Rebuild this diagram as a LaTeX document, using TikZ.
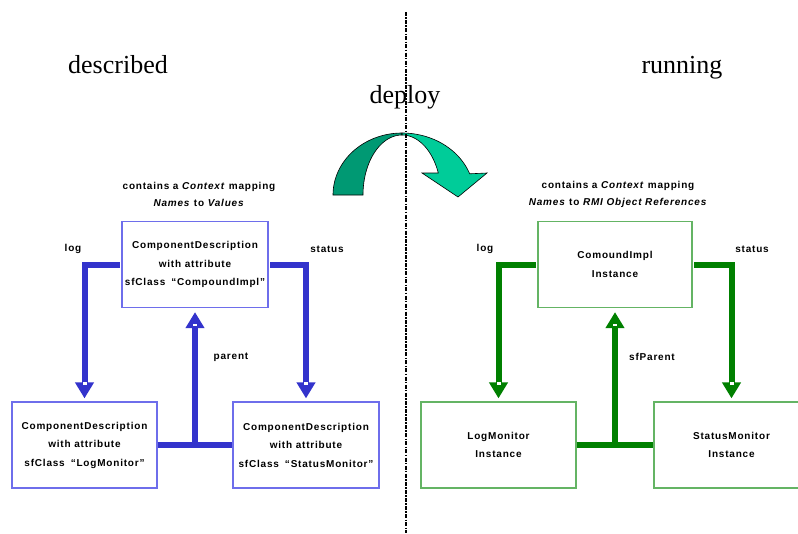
\documentclass[tikz,border=0pt]{standalone}
\usepackage{fontspec}
\setmainfont{Liberation Serif}
\newfontfamily\labfont[LetterSpace=8]{Liberation Sans}
\usetikzlibrary{arrows.meta}
\definecolor{barblue}{RGB}{51,51,204}
\definecolor{boxblue}{RGB}{110,110,235}
\definecolor{bargreen}{RGB}{0,128,0}
\definecolor{boxgreen}{RGB}{100,180,100}
\definecolor{arrdark}{RGB}{0,153,115}
\definecolor{arrlight}{RGB}{0,204,153}
\begin{document}
\begin{tikzpicture}[x=1pt,y=-1pt,
  lab/.style={font=\labfont\bfseries\fontsize{10}{18.5}\selectfont, align=center, inner sep=0pt},
  bluebox/.style={lab, draw=boxblue, line width=1.2pt, minimum height=86pt},
  greenbox/.style={lab, draw=boxgreen, line width=1.2pt, minimum height=86pt},
  big/.style={font=\fontsize{26}{30}\selectfont, anchor=base, inner sep=0pt},
  conn/.style={line width=6pt, -{Triangle[width=18pt,length=16pt]}, shorten >=3pt, shorten <=1.5pt},
  bar/.style={line width=6pt},
  notch/.style={fill=white},
  sepline/.style={line width=2.4pt, dash pattern=on 4pt off 1.3pt on 1.5pt off 1.3pt},
  curvedark/.style={fill=arrdark, draw=black, line width=0.6pt},
  curvelight/.style={fill=arrlight, draw=black, line width=0.6pt},
]
\useasboundingbox (0,0) rectangle (798,533);

% headings
\node[big] (described) at (118,73) {described};
\node[big] (running) at (682,73) {running};
\node[big] (deploy) at (405,103) {deploy};

% curved deploy arrow
\path[curvedark] plot[domain=180:270,samples=40] ({402+69*cos(\x)},{195+62*sin(\x)})
  -- plot[domain=270:180,samples=40] ({402+39*cos(\x)},{195+60*sin(\x)}) -- cycle;
\path[curvelight] plot[domain=270:340,samples=40] ({402+72*cos(\x)},{195+62*sin(\x)})
  -- (487,173) -- (458,197) -- (422,173)
  -- plot[domain=338.5:270,samples=40] ({402+39*cos(\x)},{195+60*sin(\x)}) -- cycle;

% ---------- described side ----------
\node[lab] (ctxL) at (199,194.5) {contains a \textit{Context} mapping\\[-1.5pt]\textit{Names} to \textit{Values}};
\node[bluebox, minimum width=146pt] (t1) at (195,264.5)
  {ComponentDescription\\with attribute\\sfClass\hspace{6pt}“CompoundImpl”};
\node[bluebox, minimum width=145pt] (b1) at (84.5,445)
  {ComponentDescription\\with attribute\\sfClass\hspace{6pt}“LogMonitor”};
\node[bluebox, minimum width=146pt] (b2) at (306,445)
  {ComponentDescription\\with attribute\\sfClass\hspace{6pt}“StatusMonitor”};
\node[lab] (logL) at (73,249) {log};
\node[lab] (statusL) at (327,249) {status};
\node[lab] (parentL) at (231,357) {parent};

\draw[conn, barblue] (t1.west) -| (b1.north);
\draw[conn, barblue] (t1.east) -| (b2.north);
\coordinate (j1) at (t1.south |- b1.east);
\draw[bar, barblue] (b1.east) -- (b2.west);
\draw[conn, barblue, shorten <=0pt, shorten >=4pt] (j1) -- (t1.south);
\fill[notch] ([shift={(-2,-19)}]b1.north) rectangle ++(4,2.5);
\fill[notch] ([shift={(-2,-19)}]b2.north) rectangle ++(4,2.5);
\fill[notch] ([shift={(-2,15.5)}]t1.south) rectangle ++(4,2.5);

% ---------- running side ----------
\node[lab] (ctxR) at (618,194.5) {contains a \textit{Context} mapping\\[-1.5pt]\textit{Names} to \textit{RMI Object References}};
\node[greenbox, minimum width=154pt] (t2) at (615,264.5) {ComoundImpl\\Instance};
\node[greenbox, minimum width=155pt] (b3) at (498.5,445) {LogMonitor\\Instance};
\node[greenbox, minimum width=155pt] (b4) at (731.5,445) {StatusMonitor\\Instance};
\node[lab] (logR) at (485,249) {log};
\node[lab] (statusR) at (752,249) {status};
\node[lab] (sfparentR) at (652,357) {sfParent};

\draw[conn, bargreen] (t2.west) -| (b3.north);
\draw[conn, bargreen] (t2.east) -| (b4.north);
\coordinate (j2) at (t2.south |- b3.east);
\draw[bar, bargreen] (b3.east) -- (b4.west);
\draw[conn, bargreen, shorten <=0pt, shorten >=4pt] (j2) -- (t2.south);
\fill[notch] ([shift={(-2,-19)}]b3.north) rectangle ++(4,2.5);
\fill[notch] ([shift={(-2,-19)}]b4.north) rectangle ++(4,2.5);
\fill[notch] ([shift={(-2,15.5)}]t2.south) rectangle ++(4,2.5);

% separator
\coordinate (septop) at (406,12);
\coordinate (sepbot) at (406,533);
\draw[sepline] (septop) -- (sepbot);
\end{tikzpicture}
\end{document}
